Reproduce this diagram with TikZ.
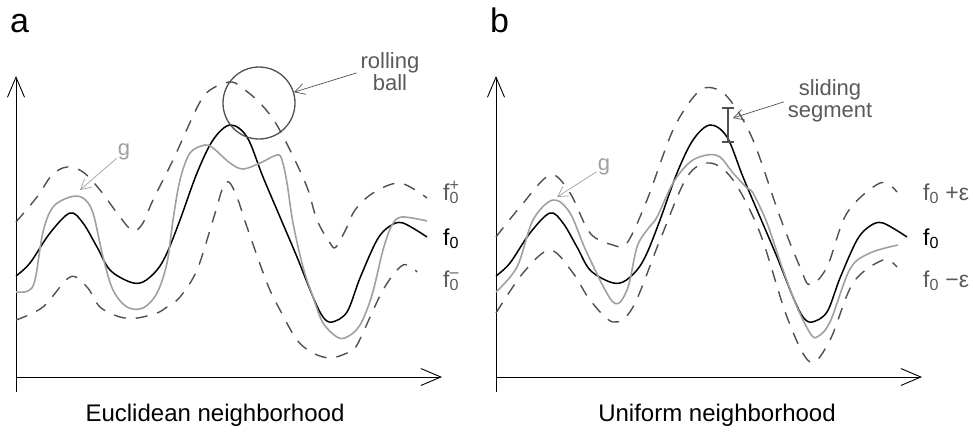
\documentclass[tikz,border=0pt]{standalone}
\usepackage{fontspec}
\setmainfont{Liberation Sans}
\usepackage{tikz}
\usetikzlibrary{arrows.meta, positioning}
\definecolor{dashgray}{RGB}{80, 80, 80}
\definecolor{ggray}{RGB}{160, 160, 160}
\definecolor{labgray}{RGB}{90, 90, 90}

\begin{document}
\begin{tikzpicture}[x=1pt, y=-1pt,
		axis/.style={line width=0.9pt, -{Straight Barb[length=20pt, width=17pt, line width=0.9pt]}},
		fzero/.style={line width=1.5pt, black},
		gcurve/.style={line width=1.6pt, color=ggray},
		band/.style={line width=1.4pt, color=dashgray, dash pattern=on 12pt off 10pt},
		note/.style={font=\fontsize{22}{22}\selectfont, text=labgray, align=center, inner sep=1pt},
		flab/.style={font=\fontsize{23}{23}\selectfont, anchor=base west, inner sep=0pt, text height=16pt, text depth=4pt},
		pointer/.style={line width=0.7pt, -{Straight Barb[length=10pt, width=11pt]}},
		panel/.style={font=\fontsize{34}{34}\selectfont, anchor=base west, inner sep=0pt},
		title/.style={font=\fontsize{24}{24}\selectfont, anchor=base}
		]
		\path[use as bounding box] (0,0) rectangle (973,432);
		
		% Axes, f0 et lettres
		\foreach \p/\dx in {a/0, b/480} {
			\begin{scope}[xshift=\dx pt]
				\coordinate (\p-org)  at (16,377);
				\coordinate (\p-ytop) at (16,76);
				\coordinate (\p-ybot) at (16,392);
				\coordinate (\p-xend) at (442,377);
				\draw[axis] (\p-ybot) -- (\p-ytop);
				\draw[axis] (\p-org) -- (\p-xend);
				\draw[fzero] plot[smooth, tension=0.55] coordinates {(16,276) (30,263) (50,233) (70,213) (83,223) (97,247) (110,270) (130,282) (143,282) (157,270) (167,253) (180,220) (197,173) (213,140) (230,125) (247,137) (263,177) (280,217) (297,257) (313,297) (323,317) (332,322) (347,312) (360,278) (377,240) (390,226) (403,223) (427,237)};
				\node[flab] (\p-f0) at (443,245) {f\textsubscript{0}};
				\node[panel] (\p-lbl) at (10,32) {\p};
			\end{scope}
		}
		
		% Voisinage euclidien
		\draw[band] plot[smooth, tension=0.55] coordinates {(16,222) (37,197) (52,175) (67,167) (83,172) (100,190) (120,217) (133,231) (143,223) (153,200) (173,160) (200,102) (215,87) (232,82) (245,90) (260,103) (275,122) (290,150) (307,187) (317,220) (330,243) (336,247) (347,227) (355,210) (373,193) (400,183) (427,198)};
		\draw[band] plot[smooth, tension=0.55] coordinates {(16,320) (43,307) (70,277) (87,287) (100,307) (120,317) (137,318) (157,313) (167,307) (180,297) (197,270) (213,220) (223,187) (229,182) (237,197) (247,227) (267,283) (280,310) (297,340) (313,353) (330,358) (347,353) (357,345) (383,290) (403,265) (417,272)};
		\draw[gcurve] plot[smooth, tension=0.55] coordinates {(16,292) (28,291) (35,280) (43,232) (53,207) (70,197) (83,198) (93,213) (103,257) (113,290) (127,307) (143,308) (157,293) (167,263) (173,220) (180,180) (190,153) (205,145) (213,148) (230,163) (243,169) (260,163) (277,155) (282,160) (287,183) (293,223) (303,267) (313,297) (323,323) (337,337) (347,337) (360,325) (372,295) (383,250) (392,225) (402,217) (427,221)};
		\node[flab, text=labgray] (a-fp) at (443,200) {f\rlap{\textsuperscript{+}}\textsubscript{0}};
		\node[flab, text=labgray] (a-fm) at (443,287) {f\rlap{\textsuperscript{--}}\textsubscript{0}};
		\node[draw=dashgray, circle, line width=1.3pt, minimum size=72pt, inner sep=0pt] (ball) at (259,103) {};
		\node[note] (roll) at (390,72) {rolling\\ball};
		\draw[pointer, dashgray, shorten <=3pt] (roll.west) -- (ball);
		\coordinate (a-gtip) at (80,190);
		\node[note, text=ggray] (a-g) at (124,152) {g};
		\draw[pointer, ggray] (a-g) -- (a-gtip);
		\node[title] (a-ttl) at (215,421) {Euclidean neighborhood};
		
		% Voisinage uniforme
		\draw[band] plot[smooth, tension=0.55] coordinates {(496,237) (520,207) (550,175) (570,193) (590,233) (613,245) (627,243) (647,200) (673,130) (697,93) (713,88) (730,100) (753,140) (780,217) (800,267) (810,285) (827,267) (847,213) (880,183) (897,192)};
		\draw[band] plot[smooth, tension=0.55] coordinates {(496,313) (523,273) (550,250) (573,273) (590,300) (613,322) (633,307) (660,240) (687,177) (710,163) (733,180) (760,233) (787,317) (810,362) (830,340) (853,283) (883,260) (897,267)};
		\draw[gcurve] plot[smooth, tension=0.55] coordinates {(496,292) (517,267) (533,220) (553,200) (570,213) (587,253) (613,302) (627,290) (637,247) (647,230) (657,217) (673,183) (690,162) (707,155) (720,157) (733,173) (747,188) (753,193) (767,223) (783,270) (797,307) (810,333) (817,337) (830,322) (850,269) (870,253) (898,245)};
		\node[flab, text=labgray] (b-fp) at (923,200) {f\textsubscript{0} +ε};
		\node[flab, text=labgray] (b-fm) at (923,287) {f\textsubscript{0} −ε};
		\coordinate (segtop) at (728,107);
		\coordinate (segbot) at (728,143);
		\draw[line width=1.8pt, dashgray, {Bar[width=12pt]}-{Bar[width=12pt]}] (segtop) -- (segbot);
		\node[note] (slide) at (830,101) {sliding\\segment};
		\coordinate (segtip) at (733,118);
		\draw[pointer, dashgray, shorten <=3pt] (slide.west) -- (segtip);
		\coordinate (b-gtip) at (557,197);
		\node[note, text=ggray] (b-g) at (604,167) {g};
		\draw[pointer, ggray] (b-g) -- (b-gtip);
		\node[title] (b-ttl) at (717,421) {Uniform neighborhood};
	\end{tikzpicture}
\end{document}
